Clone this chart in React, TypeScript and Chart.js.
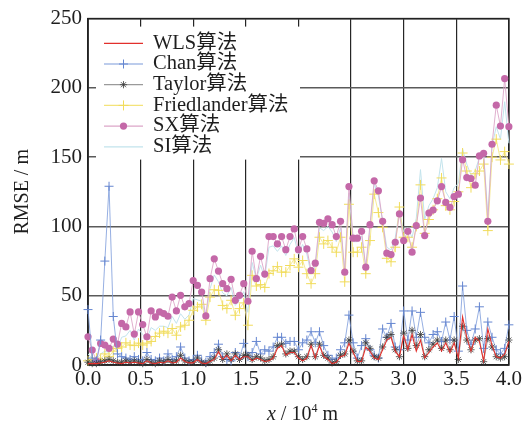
import React, { useEffect, useRef } from "react";
import { Chart, registerables } from "chart.js";

Chart.register(...registerables);

// ---- data ----
const X_STEP = 0.04; // sampling step along x (10^4 m)
const xTickValues = [0, 0.5, 1.0, 1.5, 2.0, 2.5, 3.0, 3.5, 4.0];
const yTickValues = [0, 50, 100, 150, 200, 250];
const seriesNames = ["WLS算法", "Chan算法", "Taylor算法", "Friedlander算法", "SX算法", "SI算法"];

const wls = [
  1, 1, 1, 1.5, 2, 3, 2, 1.5, 1, 2,
  1.5, 2, 1.5, 1, 3, 1.5, 1, 2, 1.5, 3,
  1.5, 2, 5, 2.5, 1.5, 1.5, 4, 1.5, 1, 2.5,
  4, 9.6, 4, 7, 3, 7, 4, 6, 6, 3,
  5, 4, 2.5, 3, 5, 12, 14, 7, 9, 9,
  5, 3, 5, 14, 5, 14, 6, 4, 1, 2,
  6, 7, 15.6, 9, 2.5, 2.5, 13, 10, 5, 4,
  11, 18, 20, 10, 6, 21, 11, 22, 10, 18,
  5, 9, 13, 16, 10, 16, 9, 16, 5, 34.7,
  20, 10, 20, 17, 3, 26, 14, 6, 5, 8,
  17,
];

const chan = [
  40, 5, 3, 18, 75, 129, 35, 8, 6, 5,
  4, 6, 4, 3, 9, 4, 3, 5, 3, 8,
  4, 6, 13, 5, 3, 4, 7, 3, 2, 6,
  9, 15, 6, 4, 3, 9, 5, 15.6, 6, 9,
  17, 8, 11, 10, 13, 20, 20, 15.6, 17, 17,
  11, 16, 18, 24, 16, 24, 14, 7, 4, 5,
  11, 16, 36, 16, 5, 14, 19, 11, 7, 5,
  26, 20, 30, 13, 11, 39, 18, 39, 20, 38,
  20, 16, 22, 24, 17, 31, 18, 35, 10, 57,
  25, 15, 26, 42, 12, 31, 20, 11, 8, 12,
  29,
];

const taylor = [
  2, 1, 1, 2, 3, 4, 3, 2, 2, 3,
  2, 3, 2, 1, 4, 2, 1, 3, 2, 4,
  2, 3, 7, 3, 2, 2, 5, 2, 1, 3,
  5, 11, 4, 8, 4, 8, 4, 7, 7, 4,
  6, 5, 3, 4, 6, 14, 15, 8, 10, 10,
  6, 4, 6, 15, 6, 15, 7, 5, 1.5, 2.4,
  7, 8, 18, 10, 3, 3, 16, 12, 6, 5,
  13, 20, 22, 11, 6, 23, 12, 25, 14, 22,
  6, 11, 15, 18, 12, 18, 11, 18, 4, 28,
  18, 11, 18, 19, 2.4, 19, 13, 6, 5, 6,
  18,
];

const friedlander = [
  3, 4, 5, 4, 8, 6, 10, 12, 13, 16,
  14.4, 14, 15.8, 14.4, 15.8, 17, 20.6, 23, 24.4, 23,
  26.3, 21.5, 27.5, 28.7, 32.3, 39.5, 41.9, 43.8, 32.3, 49,
  54.3, 53.9, 43, 40.7, 46.7, 35.9, 40.7, 44.8, 28.7, 64.7,
  57, 58, 56, 66, 68, 71, 67, 67, 71.8, 76.6,
  70.6, 75.4, 65.9, 58.7, 65.9, 92.2, 87.4, 89.8, 85, 81.4,
  92.2, 60, 116, 81.4, 81.4, 85, 65.9, 89.8, 123.3, 110,
  99.4, 77, 74.5, 85, 114, 92.2, 92.2, 85, 100, 130,
  95, 105, 112, 120, 135, 115, 112, 118, 125, 153,
  140, 128, 138, 140, 145, 97, 150, 163, 148, 154,
  145,
];

const sx = [
  20.3, 10.8, 2.9, 15.6, 14.4, 12, 18.7, 15.1, 30, 27.5,
  38.3, 22.3, 38.3, 29.2, 20.3, 39, 34.7, 38.3, 37.1, 35.2,
  49, 39, 50.3, 42, 44.3, 61, 57.5, 52.7, 35.4, 62.3,
  76.6, 67.8, 58.7, 55.1, 61.8, 46.7, 50.3, 58.7, 46, 82.1,
  62.3, 78.4, 65.6, 92.7, 92.7, 87.4, 92.7, 83.2, 92.7, 98.2,
  83.2, 92.7, 83.8, 68.2, 73.5, 103, 102.2, 105.4, 101.3, 92.7,
  103.7, 67, 128.8, 91.5, 91.5, 96.5, 70.6, 101.3, 132.9, 125.7,
  103.7, 80.7, 79.7, 88.6, 109, 89.8, 96.5, 81.4, 100.6, 120.5,
  93.4, 109.7, 111.8, 118.5, 128.8, 117.3, 113.7, 121.6, 123.3, 148.2,
  135.3, 134.6, 129.8, 150.9, 152.8, 103.7, 159.3, 187.5, 172.4, 206.7,
  172,
];

const si = [
  8, 5, 4, 8, 10, 9, 14, 12, 20, 21,
  25, 18, 26, 22, 19, 27, 25, 28, 28, 27,
  35, 30, 37, 33, 36, 48, 47, 46, 35, 55,
  65, 60, 52, 50, 56, 43, 47, 53, 38, 74,
  62, 72, 63, 85, 86, 82, 86, 79, 87, 92,
  80, 87, 80, 66, 71, 99, 97, 100, 96, 89,
  99, 68, 124, 89, 89, 93, 70, 98, 131, 122,
  104, 85, 83, 92, 112, 96, 99, 92, 106, 141,
  105, 115, 120, 128, 149, 125, 120, 128, 131, 156,
  145, 137, 140, 150, 153, 108, 158, 172, 163, 190,
  160,
];

// ---- styles ----
const FONT_FAMILY = '"Liberation Serif", "Times New Roman", "Noto Sans CJK SC", serif';
const TEXT_COLOR = "#1e1e1e";

type Style = {
  line: string;
  point: string;
  pointStyle: any;
  radius: number;
  lineWidth: number;
  pointBorderWidth: number;
};

const styles: Style[] = [
  { line: "#e2302c", point: "#e2302c", pointStyle: false, radius: 0, lineWidth: 1.1, pointBorderWidth: 1 },
  { line: "#7b9ada", point: "#6586d0", pointStyle: "cross", radius: 4.5, lineWidth: 0.8, pointBorderWidth: 1 },
  { line: "#9a9a9a", point: "#3a3a3a", pointStyle: "star", radius: 3.6, lineWidth: 0.8, pointBorderWidth: 0.8 },
  { line: "#f4e37a", point: "#f1dc5c", pointStyle: "cross", radius: 5, lineWidth: 0.8, pointBorderWidth: 1 },
  { line: "#dca6c8", point: "#c468a8", pointStyle: "circle", radius: 3.6, lineWidth: 0.9, pointBorderWidth: 0 },
  { line: "#c2e3ec", point: "#c2e3ec", pointStyle: false, radius: 0, lineWidth: 1, pointBorderWidth: 1 },
];

const seriesValues = [wls, chan, taylor, friedlander, sx, si];
// draw order: lower = on top
const drawOrder = [0, 2, 1, 4, 3, 5];

function drawMarker(ctx: CanvasRenderingContext2D, st: Style, x: number, y: number) {
  const r = st.radius;
  ctx.save();
  ctx.strokeStyle = st.point;
  ctx.fillStyle = st.point;
  ctx.lineWidth = st.pointBorderWidth || 1;
  if (st.pointStyle === "cross") {
    ctx.beginPath();
    ctx.moveTo(x - r, y);
    ctx.lineTo(x + r, y);
    ctx.moveTo(x, y - r);
    ctx.lineTo(x, y + r);
    ctx.stroke();
  } else if (st.pointStyle === "star") {
    ctx.beginPath();
    ctx.moveTo(x - r, y);
    ctx.lineTo(x + r, y);
    ctx.moveTo(x, y - r);
    ctx.lineTo(x, y + r);
    const d = r * Math.SQRT1_2;
    ctx.moveTo(x - d, y - d);
    ctx.lineTo(x + d, y + d);
    ctx.moveTo(x - d, y + d);
    ctx.lineTo(x + d, y - d);
    ctx.stroke();
  } else if (st.pointStyle === "circle") {
    ctx.beginPath();
    ctx.arc(x, y, r, 0, Math.PI * 2);
    ctx.fill();
  }
  ctx.restore();
}

const decorPlugin = {
  id: "decor",
  beforeDatasetsDraw(chart: any) {
    const { ctx, chartArea } = chart;
    ctx.save();
    ctx.fillStyle = "#ffffff";
    ctx.fillRect(chartArea.left + 8, chartArea.top + 8, 204, 133);
    // frame
    ctx.strokeStyle = "#222222";
    ctx.lineWidth = 1.5;
    ctx.strokeRect(chartArea.left, chartArea.top, chartArea.right - chartArea.left, chartArea.bottom - chartArea.top);
    ctx.restore();
  },
  afterDatasetsDraw(chart: any) {
    const { ctx, chartArea } = chart;
    // legend
    ctx.save();
    const x0 = chartArea.left + 16;
    const x1 = chartArea.left + 55;
    const tx = chartArea.left + 65;
    seriesNames.forEach((name, i) => {
      const y = chartArea.top + 24.7 + i * 20.7;
      const st = styles[i];
      ctx.strokeStyle = st.line;
      ctx.lineWidth = 1.2;
      ctx.beginPath();
      ctx.moveTo(x0, y);
      ctx.lineTo(x1, y);
      ctx.stroke();
      if (st.pointStyle) drawMarker(ctx, st, (x0 + x1) / 2, y);
      ctx.fillStyle = TEXT_COLOR;
      ctx.font = `20.5px ${FONT_FAMILY}`;
      ctx.textBaseline = "middle";
      ctx.textAlign = "left";
      ctx.fillText(name, tx, y);
    });
    ctx.restore();
  },
  afterDraw(chart: any) {
    const { ctx, chartArea } = chart;
    ctx.save();
    ctx.fillStyle = TEXT_COLOR;
    // y title
    ctx.save();
    ctx.translate(28, (chartArea.top + chartArea.bottom) / 2);
    ctx.rotate(-Math.PI / 2);
    ctx.font = `20px ${FONT_FAMILY}`;
    ctx.textAlign = "center";
    ctx.textBaseline = "alphabetic";
    ctx.fillText("RMSE / m", 0, 0);
    ctx.restore();
    // x title: x / 10^4 m
    const parts = [
      { t: "x", font: `italic 20px ${FONT_FAMILY}`, dy: 0 },
      { t: " / 10", font: `20px ${FONT_FAMILY}`, dy: 0 },
      { t: "4", font: `12px ${FONT_FAMILY}`, dy: -8 },
      { t: " m", font: `20px ${FONT_FAMILY}`, dy: 0 },
    ];
    let total = 0;
    parts.forEach((p) => {
      ctx.font = p.font;
      total += ctx.measureText(p.t).width;
    });
    let cx = (chartArea.left + chartArea.right) / 2 - total / 2 + 4;
    const baseY = 420;
    ctx.textAlign = "left";
    ctx.textBaseline = "alphabetic";
    parts.forEach((p) => {
      ctx.font = p.font;
      ctx.fillText(p.t, cx, baseY + p.dy);
      cx += ctx.measureText(p.t).width;
    });
    ctx.restore();
  },
};

export default function App() {
  const ref = useRef<HTMLCanvasElement>(null);
  useEffect(() => {
    document.body.style.margin = "0";
    const canvas = ref.current;
    if (!canvas) return;
    const xs = sx.map((_, i) => Math.round(i * X_STEP * 100) / 100);
    const datasets = seriesValues.map((vals, i) => {
      const st = styles[i];
      return {
        label: seriesNames[i],
        data: vals.map((v, j) => ({ x: xs[j], y: v })),
        borderColor: st.line,
        backgroundColor: st.point,
        borderWidth: st.lineWidth,
        pointStyle: st.pointStyle,
        pointRadius: st.radius,
        pointBorderColor: st.point,
        pointBackgroundColor: st.point,
        pointBorderWidth: st.pointBorderWidth,
        tension: 0,
        fill: false,
        clip: false as any,
        order: drawOrder[i],
      };
    });
    const tickFont = { family: FONT_FAMILY, size: 21 };
    const chart = new Chart(canvas, {
      type: "line",
      data: { datasets },
      options: {
        animation: false,
        responsive: false,
        devicePixelRatio: 1,
        layout: { padding: { left: 0, right: 2, top: 4, bottom: 0 } },
        plugins: { legend: { display: false }, tooltip: { enabled: false } },
        scales: {
          x: {
            type: "linear",
            min: 0,
            max: 4,
            afterBuildTicks: (s: any) => {
              s.ticks = xTickValues.map((v) => ({ value: v }));
            },
            afterFit: (s: any) => {
              s.height = 59;
            },
            ticks: {
              callback: (v: any) => Number(v).toFixed(1),
              font: tickFont,
              color: TEXT_COLOR,
              padding: 2,
              maxRotation: 0,
              autoSkip: false,
            },
            grid: { color: "#262626", lineWidth: 1.2, drawTicks: false },
            border: { color: "#222222", width: 1.5 },
          },
          y: {
            type: "linear",
            min: 0,
            max: 250,
            afterBuildTicks: (s: any) => {
              s.ticks = yTickValues.map((v) => ({ value: v }));
            },
            afterFit: (s: any) => {
              s.width = 88;
            },
            ticks: {
              font: tickFont,
              color: TEXT_COLOR,
              padding: 6,
              autoSkip: false,
            },
            grid: { color: "#5a5a5a", lineWidth: 1.4, drawTicks: false },
            border: { color: "#222222", width: 1.5 },
          },
        },
      },
      plugins: [decorPlugin],
    });
    return () => chart.destroy();
  }, []);
  return (
    <canvas
      ref={ref}
      width={524}
      height={424}
      style={{ display: "block", width: 524, height: 424 }}
    />
  );
}
